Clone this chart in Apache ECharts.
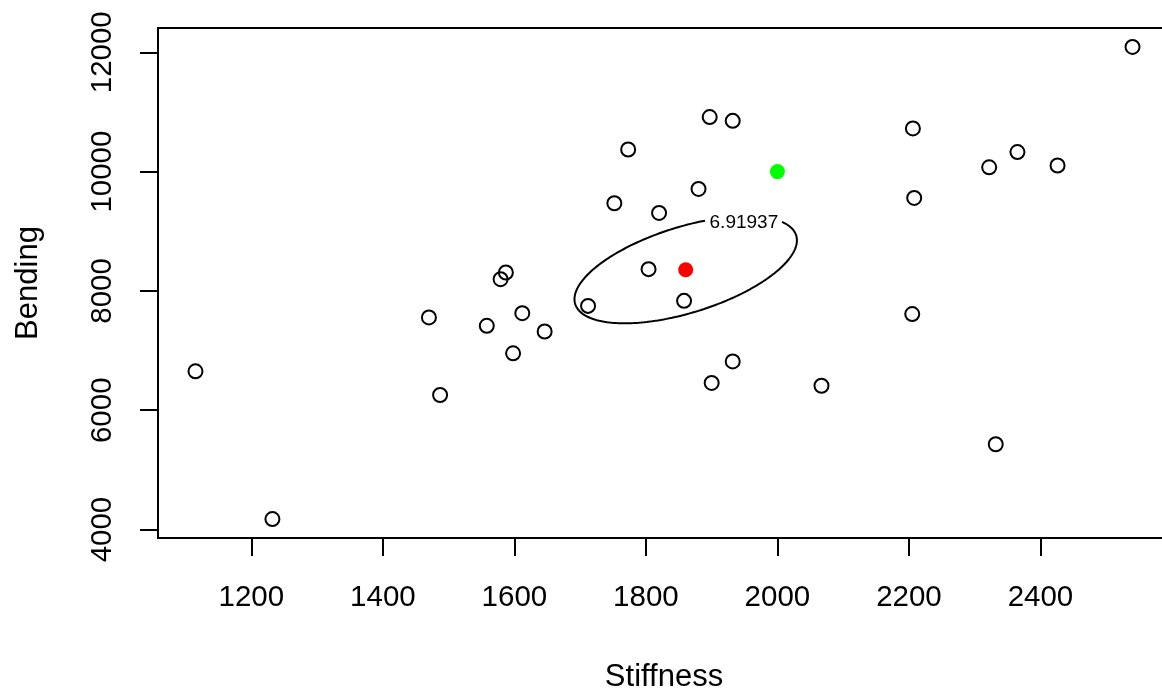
<!DOCTYPE html>
<html>
<head>
<meta charset="utf-8">
<script src="https://cdn.jsdelivr.net/npm/echarts@6/dist/echarts.min.js"></script>
<style>
html,body{margin:0;padding:0;background:#fff;}
#chart{width:1162px;height:691px;}
</style>
</head>
<body>
<div id="chart"></div>
<script>
// Lumber data: stiffness and bending strength
const stiffness = [1232,1115,2205,1897,1932,1612,1598,1804,1752,2067,2365,1646,1579,1880,1773,1712,1932,1820,1900,2426,1558,1470,1858,1587,2208,1487,2206,2332,2540,2322];
const bending   = [4175,6652,7612,10914,10850,7627,6954,8365,9469,6410,10327,7320,8196,9709,10370,7749,6818,9307,6457,10102,7414,7556,7833,8309,9559,6255,10723,5430,12090,10072];
const hypothesis = [2000, 10000];
const contourLevel = 6.91937;
const xTicks = [1200,1400,1600,1800,2000,2200,2400];
const yTicks = [4000,6000,8000,10000,12000];
const labelAt = [1949, 9150];

const n = stiffness.length;
const mean = a => a.reduce((s,v)=>s+v,0)/a.length;
const mx = mean(stiffness), my = mean(bending);
let s11=0,s22=0,s12=0;
for (let i=0;i<n;i++){const dx=stiffness[i]-mx, dy=bending[i]-my; s11+=dx*dx; s22+=dy*dy; s12+=dx*dy;}
s11/=(n-1); s22/=(n-1); s12/=(n-1);
const l11=Math.sqrt(s11), l21=s12/l11, l22=Math.sqrt(s22-l21*l21);
const k=Math.sqrt(contourLevel/n);

function ext(a){const lo=Math.min(...a),hi=Math.max(...a),r=hi-lo;return [lo-0.04*r,hi+0.04*r];}
const xr=ext(stiffness), yr=ext(bending);

const font='"Liberation Sans", Arial, sans-serif';
const chart=echarts.init(document.getElementById('chart'),null,{renderer:'canvas'});
const baseOpt={
  animation:false,
  backgroundColor:'#fff',
  grid:{left:158,top:28,width:1012,height:510,outerBoundsMode:'none',containLabel:false,
        show:true,borderColor:'#000',borderWidth:2,backgroundColor:'transparent'},
  xAxis:{type:'value',min:xr[0],max:xr[1],
    name:'Stiffness',nameLocation:'middle',nameGap:124,
    nameTextStyle:{fontFamily:font,fontSize:31,color:'#000'},
    axisLine:{show:false},
    axisTick:{show:true,customValues:xTicks,length:18,lineStyle:{color:'#000',width:2}},
    axisLabel:{customValues:xTicks,margin:45,fontFamily:font,fontSize:29.5,color:'#000',formatter:v=>String(v)},
    splitLine:{show:false}},
  yAxis:{type:'value',min:yr[0],max:yr[1],
    name:'Bending',nameLocation:'middle',nameGap:114,
    nameTextStyle:{fontFamily:font,fontSize:31,color:'#000'},
    axisLine:{show:false},
    axisTick:{show:true,customValues:yTicks,length:18,lineStyle:{color:'#000',width:2}},
    axisLabel:{customValues:yTicks,rotate:90,margin:40,fontFamily:font,fontSize:29.5,color:'#000',formatter:v=>String(v)},
    splitLine:{show:false}},
  series:[]
};
chart.setOption(baseOpt);

// ellipse (confidence region contour)
const pts=[];
const N=720;
for(let i=0;i<N;i++){const t=2*Math.PI*i/N;const c=Math.cos(t),s=Math.sin(t);
  pts.push([mx+k*l11*c, my+k*(l21*c+l22*s)]);}
const lp=chart.convertToPixel({gridIndex:0},labelAt);
const inGap=p=>{const q=chart.convertToPixel({gridIndex:0},p);return Math.abs(q[0]-lp[0])<38&&Math.abs(q[1]-lp[1])<16;};
let start=0;
for(let i=0;i<N;i++){if(inGap(pts[i])&&!inGap(pts[(i+1)%N])){start=(i+1)%N;break;}}
const ell=[];
for(let j=0;j<N;j++){const p=pts[(start+j)%N]; if(inGap(p)) break; ell.push(p);}

const pointData=stiffness.map((v,i)=>[v,bending[i]]);
chart.setOption({series:[
  {type:'scatter',data:pointData,symbol:'circle',symbolSize:14,
   itemStyle:{color:'rgba(0,0,0,0)',borderColor:'#000',borderWidth:2,opacity:1},silent:true,z:3},
  {type:'line',data:ell,symbol:'none',smooth:false,lineStyle:{color:'#000',width:2},silent:true,z:2},
  {type:'scatter',data:[labelAt],symbolSize:0,silent:true,z:4,itemStyle:{opacity:1},
   label:{show:true,position:'inside',formatter:String(contourLevel),fontFamily:font,fontSize:19,color:'#000'}},
  {type:'scatter',data:[[mx,my]],symbol:'circle',symbolSize:15,itemStyle:{color:'#ff0000',opacity:1},silent:true,z:5},
  {type:'scatter',data:[hypothesis],symbol:'circle',symbolSize:15,itemStyle:{color:'#00ff00',opacity:1},silent:true,z:5}
]});
</script>
</body>
</html>
